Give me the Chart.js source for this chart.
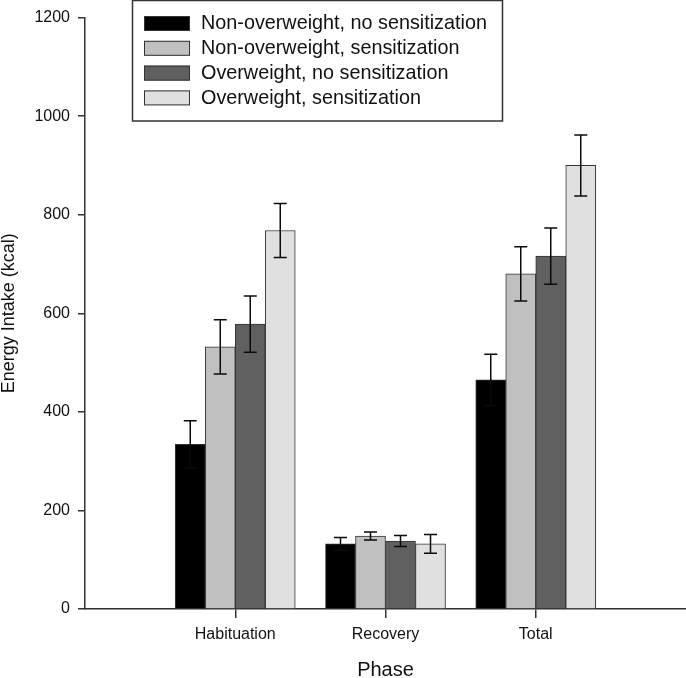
<!DOCTYPE html>
<html>
<head>
<meta charset="utf-8">
<title>Energy Intake by Phase</title>
<script src="https://cdn.jsdelivr.net/npm/chart.js@4.4.1/dist/chart.umd.min.js"></script>
<style>
  html, body { margin: 0; padding: 0; background: #fff; }
  #chart { display: block; }
</style>
</head>
<body>
<canvas id="chart" width="686" height="678"></canvas>
<script>
// categories on the x axis
const phases = ['Habituation', 'Recovery', 'Total'];

// group names (legend)
const groups = [
  'Non-overweight, no sensitization',
  'Non-overweight, sensitization',
  'Overweight, no sensitization',
  'Overweight, sensitization'
];

// mean energy intake (kcal), one array per group
const nonOwNoSens = [334, 132, 465];
const nonOwSens = [532, 148, 680];
const owNoSens = [578, 138, 716];
const owSens = [768, 132, 900];

// error (SEM), same order
const nonOwNoSensErr = [48, 13, 52];
const nonOwSensErr = [55, 8, 55];
const owNoSensErr = [57, 11, 57];
const owSensErr = [55, 19, 62];

const yTicks = [0, 200, 400, 600, 800, 1000, 1200];

const means = [nonOwNoSens, nonOwSens, owNoSens, owSens];
const errors = [nonOwNoSensErr, nonOwSensErr, owNoSensErr, owSensErr];
const fills = ['#000000', '#c0c0c0', '#606060', '#e0e0e0'];

Chart.defaults.font.family = '"Liberation Sans", Arial, sans-serif';
Chart.defaults.color = '#111';

const datasets = groups.map(function(name, g) {
  return {
    label: name,
    data: means[g].map(function(v, i) { return { x: i + 1, y: v }; }),
    errors: errors[g],
    backgroundColor: fills[g],
    borderColor: '#333',
    borderWidth: 1,
    barThickness: 30
  };
});

// draws the error bars over each bar
const errorBars = {
  id: 'errorBars',
  afterDatasetsDraw(chart) {
    const ctx = chart.ctx;
    const y = chart.scales.y;
    ctx.save();
    ctx.strokeStyle = '#0a0a0a';
    ctx.lineWidth = 1.5;
    chart.data.datasets.forEach(function(ds, d) {
      const meta = chart.getDatasetMeta(d);
      meta.data.forEach(function(bar, i) {
        const v = ds.data[i].y;
        const e = ds.errors[i];
        const top = y.getPixelForValue(v + e);
        const bot = y.getPixelForValue(v - e);
        const cx = bar.x;
        ctx.beginPath();
        ctx.moveTo(cx, top); ctx.lineTo(cx, bot);
        ctx.moveTo(cx - 6.5, top); ctx.lineTo(cx + 6.5, top);
        ctx.moveTo(cx - 6.5, bot); ctx.lineTo(cx + 6.5, bot);
        ctx.stroke();
      });
    });
    ctx.restore();
  }
};

// boxed legend inside the plot, top left
const boxLegend = {
  id: 'boxLegend',
  afterDraw(chart) {
    const ctx = chart.ctx;
    ctx.save();
    ctx.fillStyle = '#fff';
    ctx.fillRect(132.5, 0.5, 370, 120.5);
    ctx.strokeStyle = '#333';
    ctx.lineWidth = 1.5;
    ctx.strokeRect(132.5, 0.5, 370, 120.5);
    ctx.font = '19.8px "Liberation Sans", Arial, sans-serif';
    ctx.textBaseline = 'middle';
    chart.data.datasets.forEach(function(ds, i) {
      const top = 16 + i * 24.8;
      ctx.fillStyle = ds.backgroundColor;
      ctx.fillRect(144, top, 46, 15);
      ctx.strokeStyle = '#333';
      ctx.lineWidth = 1;
      ctx.strokeRect(144.5, top + 0.5, 45, 14);
      ctx.fillStyle = '#111';
      ctx.fillText(ds.label, 201, top + 8);
    });
    ctx.restore();
  }
};

new Chart(document.getElementById('chart'), {
  type: 'bar',
  data: { datasets: datasets },
  plugins: [errorBars, boxLegend],
  options: {
    responsive: false,
    animation: false,
    layout: { padding: { top: 10, right: 0, bottom: 0, left: 0 } },
    plugins: {
      legend: { display: false },
      tooltip: { enabled: false }
    },
    scales: {
      x: {
        type: 'linear',
        offset: false,
        min: 0,
        max: 4,
        afterBuildTicks: function(scale) {
          scale.ticks = phases.map(function(p, i) { return { value: i + 1 }; });
        },
        afterFit: function(scale) { scale.height = 69; },
        ticks: {
          padding: 7,
          font: { size: 16 },
          color: '#111',
          callback: function(v) { return phases[v - 1]; }
        },
        grid: { offset: false, drawOnChartArea: false, drawTicks: true, tickLength: 9, tickColor: '#333', lineWidth: 1.5 },
        border: { color: '#333', width: 1.5 },
        title: {
          display: true,
          text: 'Phase',
          font: { size: 20, lineHeight: 0.8 },
          color: '#111',
          padding: 0
        }
      },
      y: {
        min: 0,
        max: 1200,
        afterBuildTicks: function(scale) {
          scale.ticks = yTicks.map(function(v) { return { value: v }; });
        },
        afterFit: function(scale) { scale.width = 85; },
        ticks: {
          padding: 8,
          font: { size: 16 },
          color: '#111',
          callback: function(v) { return String(v); }
        },
        grid: { drawOnChartArea: false, drawTicks: true, tickLength: 7, tickColor: '#333', lineWidth: 1.5 },
        border: { color: '#333', width: 1.5 },
        title: {
          display: true,
          text: 'Energy Intake (kcal)',
          font: { size: 18, lineHeight: 1 },
          color: '#111',
          padding: 0
        }
      }
    }
  }
});
</script>
</body>
</html>
